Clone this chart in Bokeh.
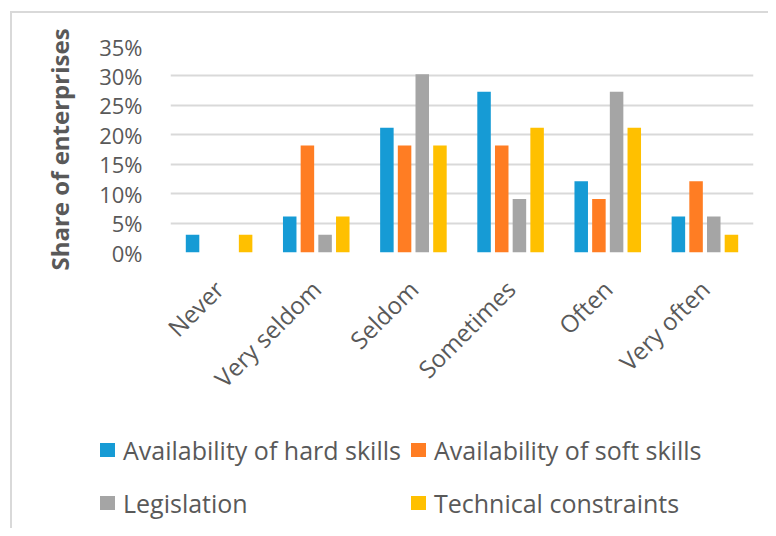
from math import pi
from bokeh.plotting import figure
from bokeh.layouts import column
from bokeh.models import (ColumnDataSource, FactorRange, Range1d, FixedTicker,
                          PrintfTickFormatter, Div)
from bokeh.transform import dodge
from bokeh.embed import file_html
from bokeh.resources import INLINE

categories = ["Never", "Very seldom", "Seldom", "Sometimes", "Often", "Very often"]
hard_skills = [3.0, 6.1, 21.2, 27.3, 12.1, 6.1]
soft_skills = [0.0, 18.2, 18.2, 18.2, 9.1, 12.1]
legislation = [0.0, 3.0, 30.3, 9.1, 27.3, 6.1]
technical = [3.0, 6.1, 18.2, 21.2, 21.2, 3.0]
series_names = ["Availability of hard skills", "Availability of soft skills",
                "Legislation", "Technical constraints"]
y_ticks = [0, 5, 10, 15, 20, 25, 30, 35]

colors = ["#169BD5", "#FF7D23", "#A5A5A5", "#FFC000"]
TXT = "#595959"
FONT = "Open Sans"

source = ColumnDataSource(dict(cat=categories, hard=hard_skills, soft=soft_skills,
                               leg=legislation, tech=technical))

W = 768
H1, H2 = 410, 118
p = figure(x_range=FactorRange(*categories, range_padding=0), y_range=Range1d(0, 35),
           width=W, height=H1, output_backend="svg", toolbar_location=None,
           min_border_left=170, min_border_right=15, min_border_top=46, min_border_bottom=158)
p.outline_line_color = None
p.background_fill_color = "white"
p.border_fill_alpha = 0

pitch = 0.182
bw = 0.139
fields = ["hard", "soft", "leg", "tech"]
for i, f in enumerate(fields):
    p.vbar(x=dodge("cat", (i - 1.5) * pitch, range=p.x_range), top=f, width=bw,
           source=source, fill_color=colors[i], line_color=None)

p.xgrid.grid_line_color = None
p.ygrid.grid_line_color = "#d9d9d9"
p.ygrid.grid_line_width = 2
p.yaxis.ticker = FixedTicker(ticks=y_ticks)
p.yaxis.formatter = PrintfTickFormatter(format="%d%%")

for ax in (p.xaxis[0], p.yaxis[0]):
    ax.axis_line_color = None
    ax.major_tick_line_color = None
    ax.minor_tick_line_color = None
    ax.major_tick_out = 0
    ax.major_tick_in = 0
    ax.major_label_text_color = TXT
    ax.major_label_text_font = FONT

p.yaxis.major_label_text_font_size = "22px"
p.xaxis.major_label_text_font_size = "24px"
p.yaxis.major_label_standoff = 28
p.yaxis.axis_label = "Share of enterprises"
p.yaxis.axis_label_text_font = FONT
p.yaxis.axis_label_text_font_size = "24px"
p.yaxis.axis_label_text_font_style = "bold"
p.yaxis.axis_label_text_color = TXT
p.yaxis.axis_label_standoff = 20

p.xaxis.major_label_orientation = pi / 4
p.xaxis.major_label_standoff = 32

# legend (2 columns x 2 rows) as HTML text below the plot
col_x = [100, 411]
row_y = [25, 78]
items_html = ""
for i, name in enumerate(series_names):
    x = col_x[i % 2]
    y = row_y[i // 2]
    items_html += (
        f'<div style="position:absolute;left:{x}px;top:{y}px;height:30px;display:flex;'
        f'align-items:center;white-space:nowrap;">'
        f'<span style="display:inline-block;width:15px;height:14px;background:{colors[i]};'
        f'margin-right:8px;"></span><span>{name}</span></div>'
    )
legend_div = Div(
    text=(f'<div style="position:relative;width:{W}px;height:{H2}px;font-family:\'{FONT}\';'
          f'font-size:25px;color:{TXT};line-height:30px;">{items_html}</div>'),
    width=W, height=H2, margin=0)

layout = column(p, legend_div, spacing=0,
                styles={"box-shadow": "inset 10px 11px 0 white, inset 12px 13px 0 #d9d9d9"})

open("out.html", "w").write(file_html(layout, INLINE))
